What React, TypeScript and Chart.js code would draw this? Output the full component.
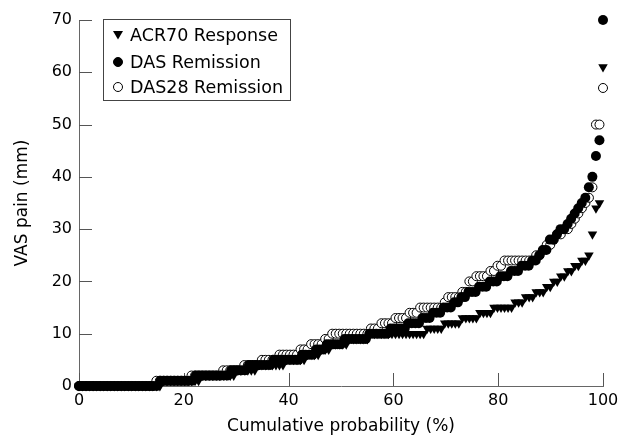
import React, { useEffect, useRef } from "react";
import { Chart, registerables } from "chart.js";

Chart.register(...registerables);

// VAS pain (mm) values and number of patients at each value (frequency table)
const acr70Values = [0, 1, 2, 3, 4, 5, 6, 7, 8, 9, 10, 11, 12, 13, 14, 15, 16, 17, 18, 19, 20, 21, 22, 23, 24, 25, 29, 34, 35, 61];
const acr70Counts = [24, 11, 10, 6, 8, 6, 4, 3, 5, 6, 16, 5, 5, 5, 4, 6, 3, 3, 3, 2, 2, 2, 2, 2, 2, 1, 1, 1, 1, 1];

const dasValues = [0, 1, 2, 3, 4, 5, 6, 7, 8, 9, 10, 11, 12, 13, 14, 15, 16, 17, 18, 19, 20, 21, 22, 23, 24, 25, 26, 28, 29, 30, 31, 32, 33, 34, 35, 36, 38, 40, 44, 47, 70];
const dasCounts = [23, 10, 10, 5, 7, 8, 4, 3, 5, 7, 6, 5, 4, 3, 3, 3, 2, 2, 3, 3, 3, 3, 3, 3, 2, 1, 2, 2, 1, 2, 1, 1, 1, 1, 1, 1, 1, 1, 1, 1, 1];

const das28Values = [0, 1, 2, 3, 4, 5, 6, 7, 8, 9, 10, 11, 12, 13, 14, 15, 16, 17, 18, 20, 21, 22, 23, 24, 25, 26, 27, 28, 29, 30, 31, 32, 33, 34, 35, 36, 38, 50, 57];
const das28Counts = [22, 10, 9, 6, 5, 5, 6, 3, 4, 2, 11, 3, 4, 4, 3, 7, 1, 4, 2, 2, 4, 2, 2, 9, 2, 1, 2, 1, 2, 2, 1, 1, 1, 1, 1, 1, 1, 2, 1];

const seriesLabels = ["ACR70 Response", "DAS Remission", "DAS28 Remission"];
const xTicks = [0, 20, 40, 60, 80, 100];
const yTicks = [0, 10, 20, 30, 40, 50, 60, 70];

const FONT = "'DejaVu Sans', sans-serif";

// cumulative probability (%) of each ranked patient
function cumulative(values: number[], counts: number[]) {
  const n = counts.reduce((a, b) => a + b, 0);
  const pts: { x: number; y: number }[] = [];
  let rank = 0;
  values.forEach((v, i) => {
    for (let k = 0; k < counts[i]; k++) {
      pts.push({ x: (100 * rank) / (n - 1), y: v });
      rank++;
    }
  });
  return pts;
}

const innerTicks = {
  id: "innerTicks",
  beforeDatasetsDraw(chart: any) {
    const { ctx, chartArea, scales } = chart;
    ctx.save();
    ctx.strokeStyle = "#555";
    ctx.lineWidth = 1;
    const len = 13;
    xTicks.forEach((t) => {
      const x = Math.round(scales.x.getPixelForValue(t)) + 0.5;
      ctx.beginPath();
      ctx.moveTo(x, chartArea.bottom);
      ctx.lineTo(x, chartArea.bottom - len);
      ctx.stroke();
    });
    yTicks.forEach((t) => {
      const y = Math.round(scales.y.getPixelForValue(t)) + 0.5;
      ctx.beginPath();
      ctx.moveTo(chartArea.left, y);
      ctx.lineTo(chartArea.left + len, y);
      ctx.stroke();
    });
    ctx.restore();
  },
};

const boxLegend = {
  id: "boxLegend",
  afterDraw(chart: any) {
    const { ctx, chartArea } = chart;
    const left = chartArea.left + 24;
    const top = chartArea.top - 1;
    const w = 187;
    const h = 81;
    ctx.save();
    ctx.fillStyle = "#fff";
    ctx.fillRect(left, top, w, h);
    ctx.strokeStyle = "#444";
    ctx.lineWidth = 1;
    ctx.strokeRect(left + 0.5, top + 0.5, w, h);
    ctx.font = `17.5px ${FONT}`;
    ctx.textBaseline = "middle";
    ctx.fillStyle = "#000";
    const rowY = [top + 16, top + 43, top + 68];
    chart.data.datasets.forEach((ds: any, i: number) => {
      const y = rowY[i];
      const mx = left + 15;
      ctx.save();
      ctx.fillStyle = ds.pointBackgroundColor;
      ctx.strokeStyle = ds.pointBorderColor;
      ctx.lineWidth = 1;
      ctx.beginPath();
      if (ds.pointStyle === "triangle") {
        ctx.moveTo(mx - 5, y - 4);
        ctx.lineTo(mx + 5, y - 4);
        ctx.lineTo(mx, y + 4.5);
        ctx.closePath();
        ctx.fill();
      } else {
        ctx.arc(mx, y, 4.5, 0, Math.PI * 2);
        ctx.fill();
        ctx.stroke();
      }
      ctx.restore();
      ctx.fillText(ds.label, left + 27, y + 1);
    });
    ctx.restore();
  },
};

export default function App() {
  const ref = useRef<HTMLCanvasElement | null>(null);
  useEffect(() => {
    if (!ref.current) return;
    const chart = new Chart(ref.current, {
      type: "scatter",
      data: {
        datasets: [
          {
            label: seriesLabels[0],
            data: cumulative(acr70Values, acr70Counts),
            pointStyle: "triangle",
            rotation: 180,
            pointRadius: 5.5,
            pointBackgroundColor: "#000",
            pointBorderColor: "#000",
            pointBorderWidth: 0,
            backgroundColor: "#000",
            borderColor: "#000",
            order: 0,
            clip: false,
          } as any,
          {
            label: seriesLabels[1],
            data: cumulative(dasValues, dasCounts),
            pointStyle: "circle",
            pointRadius: 5,
            pointBackgroundColor: "#000",
            pointBorderColor: "#000",
            pointBorderWidth: 0,
            backgroundColor: "#000",
            borderColor: "#000",
            order: 1,
            clip: false,
          } as any,
          {
            label: seriesLabels[2],
            data: cumulative(das28Values, das28Counts),
            pointStyle: "circle",
            pointRadius: 4.5,
            pointBackgroundColor: "#fff",
            pointBorderColor: "#000",
            pointBorderWidth: 1,
            backgroundColor: "#fff",
            borderColor: "#000",
            order: 2,
            clip: false,
          } as any,
        ],
      },
      options: {
        animation: false,
        responsive: false,
        devicePixelRatio: 1,
        layout: { padding: { left: 0, top: 20, right: 24, bottom: 0 } },
        plugins: { legend: { display: false }, tooltip: { enabled: false } },
        scales: {
          x: {
            type: "linear",
            min: 0,
            max: 100,
            afterBuildTicks: (s: any) => {
              s.ticks = xTicks.map((v) => ({ value: v }));
            },
            afterFit: (s: any) => {
              s.height = 55;
            },
            grid: { display: false, drawTicks: false, tickLength: 0 },
            border: { display: true, color: "#666", width: 1 },
            ticks: { color: "#000", font: { family: FONT, size: 16 }, padding: 5, maxRotation: 0 },
            title: {
              display: true,
              text: "Cumulative probability (%)",
              color: "#000",
              font: { family: FONT, size: 17 },
              padding: { top: 0, bottom: 4 },
            },
          },
          y: {
            type: "linear",
            min: 0,
            max: 70,
            afterBuildTicks: (s: any) => {
              s.ticks = yTicks.map((v) => ({ value: v }));
            },
            afterFit: (s: any) => {
              s.width = 79;
            },
            grid: { display: false, drawTicks: false, tickLength: 0 },
            border: { display: true, color: "#666", width: 1 },
            ticks: { color: "#000", font: { family: FONT, size: 16 }, padding: 7 },
            title: {
              display: true,
              text: "VAS pain (mm)",
              color: "#000",
              font: { family: FONT, size: 17 },
              padding: { top: 12, bottom: 0 },
            },
          },
        },
      },
      plugins: [innerTicks, boxLegend],
    });
    return () => chart.destroy();
  }, []);
  return (
    <div style={{ position: "absolute", left: 0, top: 0, width: 627, height: 441, background: "#fff" }}>
      <canvas ref={ref} width={627} height={441} style={{ display: "block" }} />
    </div>
  );
}
